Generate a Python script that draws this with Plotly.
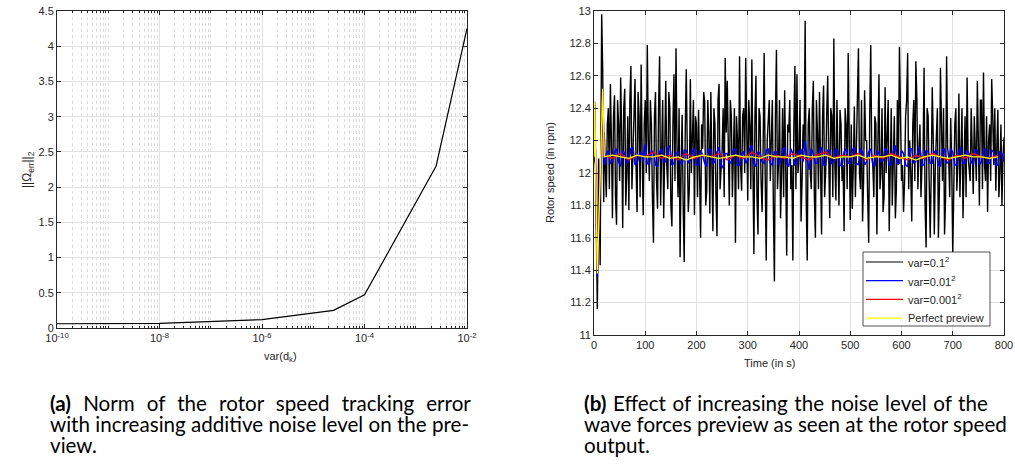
import numpy as np
import plotly.graph_objects as go

# ---------------- data: left panel ----------------
var_levels = [1e-10, 1e-8, 1e-6, 2.5e-5, 1e-4, 2.5e-3, 1e-2]
err_norm = [0.06, 0.065, 0.12, 0.25, 0.47, 2.30, 4.25]

x_tick_vals = [1e-10, 1e-8, 1e-6, 1e-4, 1e-2]
x_tick_text = ["10<sup>-10</sup>", "10<sup>-8</sup>", "10<sup>-6</sup>", "10<sup>-4</sup>", "10<sup>-2</sup>"]

# ---------------- data: right panel ----------------
black_start_t = [0, 3, 6.5, 9, 12, 15, 17, 19]
black_start_v = [12.10, 12.05, 11.16, 12.09, 11.43, 12.98, 12.63, 11.82]
black_main = [  # t = 20, 24, 28, ...
    12.25, 11.85, 12.40, 12.55, 11.72, 12.48, 11.68, 12.30, 12.59, 11.66,
    12.52, 12.00, 11.77, 12.66, 12.10, 12.58, 11.76, 12.35, 12.67, 11.74,
    12.45, 12.79, 11.95, 12.30, 11.57, 12.50, 11.78, 12.72, 12.05, 11.72,
    12.57, 11.90, 12.40, 11.67, 12.61, 12.77, 11.85, 11.48, 12.36, 11.45,
    12.64, 11.76, 12.58, 12.20, 11.74, 12.30, 12.39, 11.60, 12.15, 12.44,
    11.89, 12.25, 12.50, 11.64, 12.30, 11.61, 12.55, 12.00, 12.40, 12.71,
    12.57, 11.80, 12.35, 12.10, 11.57, 12.20, 12.72, 11.89, 12.40, 12.71,
    11.83, 12.30, 12.70, 11.50, 12.60, 11.62, 12.35, 11.76, 12.74, 11.46,
    12.30, 11.95, 12.45, 11.33, 12.76, 12.05, 11.72, 12.40, 12.51, 11.49,
    12.25, 11.90, 11.46, 12.66, 12.61, 12.10, 11.70, 12.30, 12.94, 11.46,
    12.40, 11.90, 12.57, 11.60, 12.25, 12.50, 11.62, 12.54, 12.00, 12.60,
    11.72, 12.35, 12.83, 11.83, 12.20, 12.39, 11.95, 11.64, 12.30, 12.74,
    11.71, 11.78, 12.41, 12.10, 12.77, 11.90, 11.70, 12.51, 12.20, 11.57,
    12.79, 12.05, 12.35, 11.62, 12.61, 12.00, 11.76, 12.53, 12.25, 11.64,
    12.40, 12.10, 11.72, 12.45, 12.78, 11.95, 11.76, 12.35, 12.74, 12.20,
    11.70, 12.45, 12.69, 11.90, 12.30, 12.05, 12.65, 11.54, 12.35, 11.60,
    12.53, 11.62, 12.25, 11.60, 12.65, 11.95, 11.62, 12.72, 12.10, 12.34,
    11.50, 12.30, 11.89, 12.49, 12.10, 11.72, 12.35, 12.59, 12.00, 12.40,
    11.87, 12.20, 12.57, 11.80, 12.45, 12.62, 11.95, 11.76, 12.30, 12.58,
    12.05, 11.89, 12.39, 12.00, 11.80, 12.22,
]
black_mid = [  # t = 22, 26, 30, ...
    12.05, 12.30, 11.90, 12.20, 12.35, 11.85, 12.45, 11.95, 12.25, 12.40,
    11.80, 12.35, 12.45, 11.90, 12.30, 12.05, 12.50, 11.85, 12.10, 12.30,
    12.00, 12.20, 12.45, 11.85, 12.35, 11.95, 12.40, 11.80, 12.45, 12.20,
    12.05, 12.50, 11.80, 12.30, 11.95, 12.15, 12.40, 12.05, 11.80, 12.25,
    12.15, 11.90, 12.00, 12.45, 12.35, 11.85, 11.95, 12.30, 12.50, 11.80,
    12.45, 11.75, 12.05, 12.40, 11.85, 12.45, 11.90, 12.15, 11.85, 12.25,
    12.05, 12.45, 11.85, 12.40, 12.35, 11.90, 12.05, 12.35, 12.00, 12.10,
    12.45, 11.90, 12.05, 12.35, 11.85, 12.40, 11.95, 12.15, 12.00, 12.20,
    12.45, 12.20, 11.80, 12.35, 11.90, 12.45, 12.00, 11.85, 12.05, 12.30,
    12.45, 12.05, 12.30, 11.90, 12.00, 12.45, 11.95, 12.15, 11.85, 12.30,
    12.00, 12.40, 11.85, 12.45, 11.90, 12.05, 12.35, 11.85, 12.35, 12.10,
    12.40, 11.85, 12.05, 12.45, 11.80, 12.30, 12.05, 12.40, 11.90, 12.05,
    12.30, 12.05, 11.85, 12.40, 12.00, 12.45, 11.95, 12.20, 11.85, 12.35,
    12.10, 11.85, 12.30, 12.20, 11.90, 12.40, 11.85, 12.00, 12.45, 12.10,
    11.80, 12.35, 11.90, 12.05, 12.40, 12.05, 11.95, 12.45, 11.90, 12.00,
    12.30, 11.95, 12.45, 12.15, 11.85, 12.10, 11.80, 12.40, 11.95, 12.00,
    12.20, 12.05, 12.40, 11.90, 12.35, 12.40, 11.85, 12.15, 11.85, 12.05,
    11.90, 12.40, 12.05, 11.85, 12.40, 12.20, 11.85, 12.10, 11.95, 12.20,
    12.35, 11.95, 12.05, 12.45, 11.90, 12.05, 12.35, 12.20, 11.95, 12.35,
    12.40, 12.15, 11.85, 12.30, 12.10,
]

blue_start_t = [0, 1.3, 6.5, 17]
blue_start_v = [12.10, 12.44, 11.36, 12.52]
blue_main = [  # t = 20, 28, 36, ...
    12.05, 12.14, 12.07, 12.15, 12.04, 12.12, 12.08, 12.16, 12.06, 12.13,
    12.18, 12.05, 12.12, 12.04, 12.15, 12.07, 12.17, 12.06, 12.13, 12.05,
    12.14, 12.08, 12.15, 12.05, 12.11, 12.04, 12.14, 12.07, 12.16, 12.03,
    12.12, 12.06, 12.15, 12.05, 12.13, 12.08, 12.17, 12.04, 12.12, 12.06,
    12.15, 12.05, 12.13, 12.07, 12.16, 12.04, 12.12, 12.06, 12.14, 12.20,
    12.02, 12.12, 12.06, 12.16, 12.05, 12.14, 12.07, 12.13, 12.04, 12.15,
    12.06, 12.16, 12.05, 12.13, 12.07, 12.15, 12.04, 12.12, 12.08, 12.14,
    12.05, 12.17, 12.06, 12.12, 12.04, 12.15, 12.07, 12.16, 12.05, 12.13,
    12.06, 12.14, 12.04, 12.15, 12.07, 12.13, 12.05, 12.16, 12.06, 12.12,
    12.05, 12.14, 12.07, 12.15, 12.06, 12.13, 12.05, 12.12,
]
blue_mid = [  # t = 24, 32, 40, ...
    12.11, 12.06, 12.13, 12.07, 12.14, 12.06, 12.15, 12.05, 12.11, 12.07,
    12.06, 12.14, 12.05, 12.13, 12.07, 12.15, 12.05, 12.12, 12.07, 12.14,
    12.06, 12.13, 12.05, 12.14, 12.06, 12.15, 12.06, 12.13, 12.05, 12.12,
    12.07, 12.14, 12.05, 12.12, 12.06, 12.15, 12.06, 12.13, 12.07, 12.14,
    12.06, 12.13, 12.05, 12.14, 12.06, 12.15, 12.05, 12.13, 12.07, 12.08,
    12.15, 12.06, 12.13, 12.05, 12.14, 12.06, 12.15, 12.05, 12.13, 12.06,
    12.14, 12.06, 12.15, 12.05, 12.13, 12.06, 12.14, 12.07, 12.15, 12.05,
    12.13, 12.06, 12.14, 12.05, 12.15, 12.06, 12.13, 12.05, 12.14, 12.06,
    12.13, 12.05, 12.14, 12.06, 12.15, 12.05, 12.13, 12.06, 12.14, 12.07,
    12.14, 12.05, 12.13, 12.06, 12.14, 12.05, 12.13, 12.07,
]

red_start_t = [0, 1.3, 6.5, 17]
red_start_v = [12.10, 12.43, 11.39, 12.50]
red_main = [  # t = 20, 36, 52, ...
    12.11, 12.09, 12.12, 12.08, 12.11, 12.10, 12.13, 12.09, 12.11, 12.08,
    12.12, 12.09, 12.11, 12.10, 12.12, 12.08, 12.11, 12.09, 12.13, 12.10,
    12.08, 12.11, 12.09, 12.12, 12.10, 12.08, 12.11, 12.13, 12.09, 12.11,
    12.10, 12.12, 12.08, 12.11, 12.09, 12.12, 12.10, 12.08, 12.11, 12.09,
    12.12, 12.10, 12.08, 12.11, 12.09, 12.12, 12.10, 12.09, 12.11,
]

yellow_start_t = [0, 1.3, 6.5, 17]
yellow_start_v = [12.10, 12.44, 11.38, 12.52]
yellow_main = [  # t = 20, 36, 52, ...
    12.10, 12.11, 12.10, 12.09, 12.11, 12.10, 12.10, 12.11, 12.09, 12.10,
    12.08, 12.10, 12.11, 12.10, 12.09, 12.10, 12.11, 12.10, 12.10, 12.09,
    12.11, 12.10, 12.10, 12.09, 12.11, 12.10, 12.10, 12.11, 12.09, 12.10,
    12.10, 12.11, 12.09, 12.10, 12.10, 12.11, 12.09, 12.10, 12.08, 12.10,
    12.11, 12.10, 12.09, 12.10, 12.11, 12.10, 12.10, 12.09, 12.10,
]

series_names = ["var=0.1<sup>2</sup>", "var=0.01<sup>2</sup>", "var=0.001<sup>2</sup>", "Perfect preview"]
series_colors = ["#000000", "#0000ff", "#ff0000", "#ffff00"]
series_widths = [1.4, 1.6, 1.3, 1.3]


def build(t_start, v_start, main, step, mid=None):
    t = list(t_start)
    v = list(v_start)
    for i, val in enumerate(main):
        t.append(20 + step * i)
        v.append(val)
        if mid is not None and i < len(mid):
            t.append(20 + step * i + step / 2)
            v.append(mid[i])
    return t, v


W, H = 1015, 469
px = lambda x: x / W
py = lambda y: 1 - y / H

AX = "#262626"
GRID = "#e2e2e2"
FONT = "Liberation Sans, Arial, Helvetica, sans-serif"

fig = go.Figure()

fig.add_trace(go.Scatter(x=var_levels, y=err_norm, mode="lines",
                         line=dict(color="black", width=1.2),
                         xaxis="x", yaxis="y", showlegend=False))

right_series = [
    build(black_start_t, black_start_v, black_main, 4, black_mid),
    build(blue_start_t, blue_start_v, blue_main, 8, blue_mid),
    build(red_start_t, red_start_v, red_main, 16),
    build(yellow_start_t, yellow_start_v, yellow_main, 16),
]
for (t, v), name, col, lw in zip(right_series, series_names, series_colors, series_widths):
    fig.add_trace(go.Scatter(x=t, y=v, mode="lines", name=name,
                             line=dict(color=col, width=lw),
                             xaxis="x2", yaxis="y2", showlegend=False))

common = dict(showline=True, linecolor=AX, linewidth=1, mirror="ticks",
              ticks="inside", ticklen=4, tickcolor=AX, tickwidth=1,
              showgrid=True, gridcolor=GRID, gridwidth=1, zeroline=False,
              automargin=False,
              tickfont=dict(family=FONT, size=11, color=AX))

fig.update_layout(
    width=W, height=H, margin=dict(l=0, r=0, t=0, b=0, pad=0, autoexpand=False),
    paper_bgcolor="white", plot_bgcolor="white",
    font=dict(family=FONT, size=11, color=AX),
    showlegend=False,
    xaxis=dict(domain=[px(57), px(467)], type="log", range=[-10, -2], anchor="y",
               tickvals=x_tick_vals, ticktext=x_tick_text,
               minor=dict(ticks="inside", ticklen=2, tickcolor=AX, dtick="D1",
                          showgrid=True, gridcolor="#dcdcdc", griddash="dot", gridwidth=1),
               **common),
    yaxis=dict(domain=[py(328), py(11)], range=[0, 4.5], dtick=0.5, anchor="x", **common),
    xaxis2=dict(domain=[px(594), px(1004)], range=[0, 800], dtick=100, anchor="y2", **common),
    yaxis2=dict(domain=[py(335), py(11)], range=[11, 13], dtick=0.2, anchor="x2", **common),
)

# ---- legend box (compact MATLAB-style legend) ----
shapes = [dict(type="rect", xref="paper", yref="paper",
               x0=px(863), x1=px(990), y0=py(326), y1=py(252),
               fillcolor="white", line=dict(color=AX, width=0.8), layer="above")]
ann = []
for i, (name, col) in enumerate(zip(series_names, series_colors)):
    yy = 262 + 18.7 * i
    shapes.append(dict(type="line", xref="paper", yref="paper",
                       x0=px(866), x1=px(903), y0=py(yy), y1=py(yy),
                       line=dict(color=col, width=1.2), layer="above"))
    ann.append(dict(text=name, x=px(906), y=py(yy), xref="paper", yref="paper",
                    xanchor="left", yanchor="middle", showarrow=False,
                    font=dict(family=FONT, size=11, color=AX)))

ann.append(dict(text="var(d<sub>k</sub>)", x=px(262), y=py(366), xref="paper", yref="paper",
                showarrow=False, font=dict(family=FONT, size=11, color=AX)))
ann.append(dict(text="||Ω<sub>err</sub>||<sub>2</sub>", x=px(18), y=py(170), xref="paper", yref="paper",
                showarrow=False, textangle=-90, font=dict(family=FONT, size=12, color=AX)))
ann.append(dict(text="Time (in s)", x=px(798), y=py(371), xref="paper", yref="paper",
                showarrow=False, font=dict(family=FONT, size=11, color=AX)))
ann.append(dict(text="Rotor speed (in rpm)", x=px(550), y=py(173), xref="paper", yref="paper",
                showarrow=False, textangle=-90, font=dict(family=FONT, size=11, color=AX)))

CAP = "Lato, Noto Sans, sans-serif"
sp_a = " \u2004"
sp_b = " \u200a"
cap_a = ["<b>(a)</b>" + sp_a + sp_a.join("Norm of the rotor speed tracking error".split(" ")),
         "with increasing additive noise level on the pre-",
         "view."]
cap_b = ["<b>(b)</b>" + sp_b + sp_b.join("Effect of increasing the noise level of the".split(" ")),
         "wave forces preview as seen at the rotor speed",
         "output."]
for lines, x0 in ((cap_a, 48), (cap_b, 582)):
    for i, line in enumerate(lines):
        ann.append(dict(text=line, x=px(x0), y=py(403 + 21 * i), xref="paper", yref="paper",
                        xanchor="left", yanchor="middle", showarrow=False,
                        font=dict(family=CAP, size=20.6, color="black")))

fig.update_layout(annotations=ann, shapes=shapes)
fig.write_html("out.html",
               post_script="document.body.style.margin='0';document.body.style.padding='0';"
                           "document.documentElement.style.margin='0';")
